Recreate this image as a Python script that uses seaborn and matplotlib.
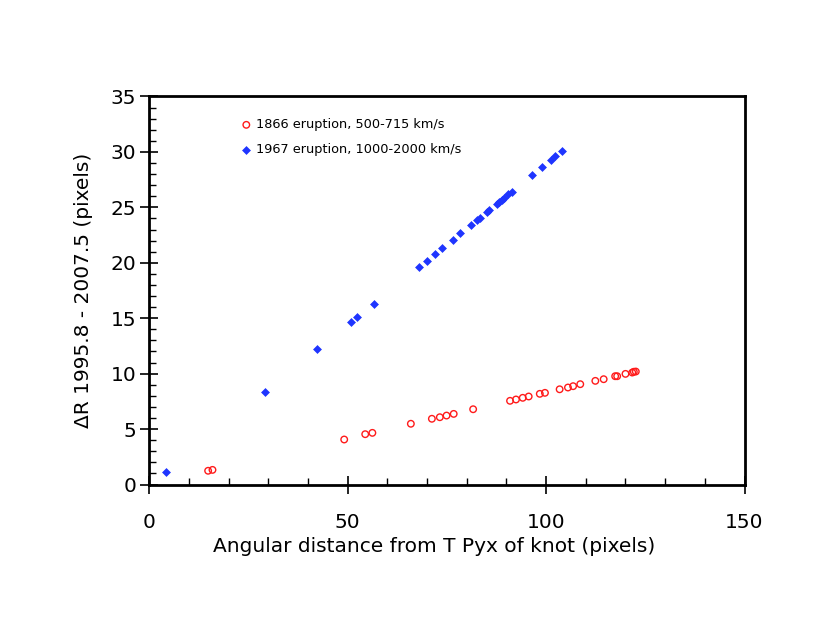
import pandas as pd
import matplotlib
matplotlib.use("Agg")
import matplotlib.pyplot as plt
from matplotlib.ticker import MultipleLocator
import seaborn as sns

# 1866 eruption knots (open red circles)
dist_1866 = [14.8, 15.9, 49.1, 54.4, 56.2, 65.9, 71.2, 73.2, 74.9, 76.7, 81.6,
             90.9, 92.4, 94.1, 95.6, 98.4, 99.7, 103.4, 105.5, 106.8, 108.6,
             112.4, 114.5, 117.4, 117.9, 120.0, 121.7, 122.1, 122.6]
dr_1866 = [1.24, 1.32, 4.06, 4.54, 4.66, 5.48, 5.93, 6.07, 6.22, 6.37, 6.79,
           7.55, 7.67, 7.82, 7.94, 8.18, 8.27, 8.59, 8.75, 8.87, 9.05,
           9.35, 9.50, 9.77, 9.77, 9.98, 10.10, 10.17, 10.19]

# 1967 eruption knots (filled blue diamonds)
dist_1967 = [4.1, 29.2, 42.3, 50.8, 52.3, 56.6, 68.0, 69.9, 72.0, 73.7, 76.4,
             78.4, 81.0, 82.6, 83.3, 85.0, 85.7, 87.5, 88.2, 88.8, 89.4,
             90.4, 91.4, 96.5, 99.0, 101.2, 102.3, 104.0]
dr_1967 = [1.17, 8.39, 12.2, 14.68, 15.1, 16.3, 19.66, 20.2, 20.8, 21.3, 22.07,
           22.67, 23.4, 23.9, 24.08, 24.6, 24.78, 25.3, 25.5, 25.7, 25.86,
           26.16, 26.4, 27.9, 28.6, 29.25, 29.6, 30.1]

label_1866 = "1866 eruption, 500-715 km/s"
label_1967 = "1967 eruption, 1000-2000 km/s"

df = pd.concat([
    pd.DataFrame({"dist": dist_1866, "dr": dr_1866, "eruption": label_1866}),
    pd.DataFrame({"dist": dist_1967, "dr": dr_1967, "eruption": label_1967}),
])

sns.set_style("white")
plt.rcParams['font.family'] = ['DejaVu Sans']
plt.rcParams['text.color'] = 'black'
plt.rcParams['axes.labelcolor'] = 'black'
plt.rcParams['xtick.color'] = 'black'
plt.rcParams['ytick.color'] = 'black'

fig = plt.figure(figsize=(8.3, 6.42), dpi=100)
ax = fig.add_axes([0.180, 0.2453, 0.717, 0.6044])

red = "#ff1a1a"
blue = "#1f35ff"

sns.scatterplot(data=df[df["eruption"] == label_1866], x="dist", y="dr",
                marker="o", s=22, facecolors="none", edgecolor=red,
                linewidth=1.0, label=label_1866, ax=ax)
sns.scatterplot(data=df[df["eruption"] == label_1967], x="dist", y="dr",
                marker="D", s=16, color=blue, edgecolor=blue,
                linewidth=0.5, label=label_1967, ax=ax)

ax.set_xlim(0, 150)
ax.set_ylim(0, 35)
ax.xaxis.set_major_locator(MultipleLocator(50))
ax.xaxis.set_minor_locator(MultipleLocator(10))
ax.yaxis.set_major_locator(MultipleLocator(5))
ax.yaxis.set_minor_locator(MultipleLocator(1))

for side in ["left", "bottom", "top", "right"]:
    ax.spines[side].set_color("black")
    ax.spines[side].set_linewidth(2)

ax.tick_params(bottom=True, left=True, top=False, right=False, which="both")
ax.tick_params(axis="both", which="major", direction="inout", length=13,
               width=1.2, color="black", labelsize=14.5, labelcolor="black")
ax.tick_params(axis="both", which="minor", direction="in", length=5,
               width=1.0, color="black")
ax.tick_params(axis="x", which="major", pad=14)
ax.tick_params(axis="y", which="major", pad=3)

ax.set_xlabel("Angular distance from T Pyx of knot (pixels)", fontsize=14.5)
ax.set_ylabel("ΔR 1995.8 - 2007.5 (pixels)", fontsize=14.5)
ax.xaxis.set_label_coords(0.478, -0.135)
ax.yaxis.set_label_coords(-0.095, 0.5)

leg = ax.legend(loc="upper left", bbox_to_anchor=(0.152, 0.944),
                frameon=False, fontsize=9.3, handletextpad=0.25,
                handlelength=1.0, labelspacing=0.95, borderaxespad=0,
                borderpad=0)
for t in leg.get_texts():
    t.set_color("black")

fig.savefig("out.png", dpi=100, facecolor="white")
